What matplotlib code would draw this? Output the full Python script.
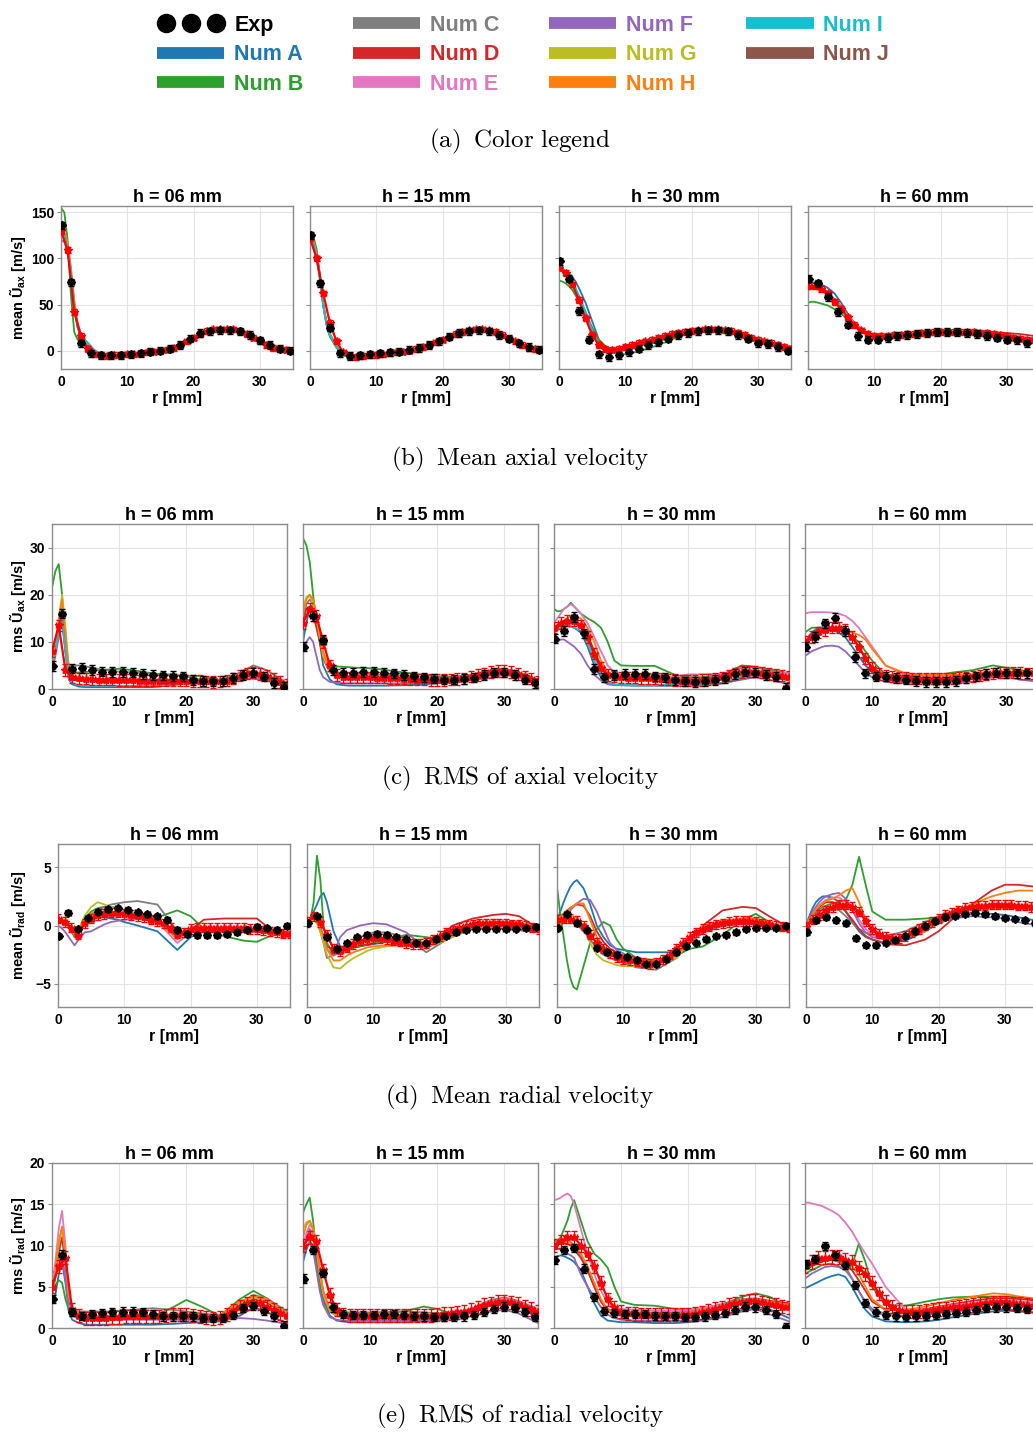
import matplotlib
matplotlib.use("Agg")
import matplotlib.pyplot as plt
from matplotlib.lines import Line2D
from matplotlib.legend_handler import HandlerLine2D

plt.rcParams["font.family"] = ["Liberation Sans", "DejaVu Sans"]
plt.rcParams["font.weight"] = "bold"
plt.rcParams["mathtext.fontset"] = "custom"
plt.rcParams["mathtext.rm"] = "Liberation Sans:bold"
plt.rcParams["mathtext.it"] = "Liberation Sans:bold"
plt.rcParams["mathtext.bf"] = "Liberation Sans:bold"

W, H = 1033, 1432

# ---------------------------------------------------------------- data
MODEL_KEYS = ["A", "B", "C", "D", "E", "F", "G", "H", "I", "J"]
MODEL_COLORS = ["#1f77b4", "#2ca02c", "#7f7f7f", "#d62728", "#e377c2",
                "#9467bd", "#bcbd22", "#ff7f0e", "#17becf", "#8c564b"]
HEIGHTS = ["06", "15", "30", "60"]

R_MODEL = [0, 0.5, 1, 1.5, 2, 2.5, 3, 4, 5, 6, 7, 8, 9, 10, 12, 15, 18, 20, 22, 25, 28, 30, 32, 35]
R_EXP = [0.1, 1.5, 3, 4.5, 6, 7.5, 9, 10.5, 12, 13.5, 15, 16.5, 18, 19.5, 21, 22.5, 24, 25.5,
         27, 28.5, 30, 31.5, 33, 34.5]
R_RED = list(range(36))

EXP_YERR = [4.0, 1.0, 0.2, 0.5]
EXP_XERR = 0.4
RED_YERR = [3.0, 1.2, 0.4, 0.8]
RED_XERR = 0.4

# mean axial velocity
UAX_EXP_06 = [136, 74, 8, -3, -5, -5, -5, -4, -3, -1, 0, 2, 6, 13, 19, 21, 22, 22, 21, 17, 11, 6, 2, 0]
UAX_RED_06 = [130, 109, 42, 16, 2, -4, -5, -6, -5, -5, -4, -4, -3, -2, -1, 0, 1, 3, 6, 10, 14, 18,
              21, 23, 23, 23, 23, 21, 18, 14, 10, 6, 3, 2, 1, 0]
UAX_NUM_06 = {
    "A": [128, 125, 112, 80, 45, 25, 15, 8, 0, -5, -6, -6, -5, -4, -3, 0, 5, 13, 20, 24, 18, 11, 3, 0],
    "B": [155, 150, 120, 60, 20, 12, 10, 5, -2, -5, -6, -6, -5, -5, -3, 0, 4, 12, 20, 25, 19, 12, 4, 0],
    "C": [130, 126, 114, 85, 48, 26, 15, 7, -1, -6, -7, -7, -6, -5, -4, -1, 4, 12, 20, 24, 18, 11, 3, 0],
    "F": [120, 118, 108, 82, 50, 28, 15, 6, -1, -5, -6, -6, -5, -4, -3, 0, 5, 13, 20, 24, 17, 11, 3, 0],
    "H": [132, 128, 118, 90, 55, 30, 18, 8, 0, -4, -5, -5, -5, -4, -3, 0, 5, 13, 20, 24, 18, 11, 4, 0],
    "I": [126, 124, 112, 85, 50, 28, 16, 9, 1, -4, -5, -5, -5, -4, -3, 0, 5, 13, 20, 24, 18, 11, 4, 0],
    "D": [130, 127, 115, 86, 50, 27, 16, 8, 0, -5, -6, -6, -5, -4, -3, 0, 5, 13, 21, 24, 18, 11, 4, 0],
}
UAX_EXP_15 = [125, 73, 25, -3, -6, -5, -4, -3, -2, -1, 1, 3, 6, 10, 15, 19, 21, 22, 21, 17, 13, 8, 4, 1]
UAX_RED_15 = [122, 100, 62, 30, 10, -2, -6, -7, -6, -5, -5, -4, -3, -2, -1, 0, 2, 4, 6, 9, 12, 15,
              18, 20, 22, 23, 23, 22, 20, 17, 13, 10, 6, 3, 2, 1]
UAX_NUM_15 = {
    "A": [122, 118, 105, 80, 50, 30, 18, 5, -4, -7, -7, -6, -5, -4, -3, 0, 5, 12, 18, 23, 20, 13, 6, 0],
    "B": [128, 124, 110, 82, 50, 28, 15, 3, -5, -7, -7, -6, -5, -4, -3, 1, 6, 13, 19, 23, 20, 13, 6, 0],
    "F": [118, 114, 100, 76, 48, 28, 17, 5, -4, -7, -7, -6, -5, -4, -3, 0, 5, 12, 18, 23, 19, 13, 6, 0],
    "H": [126, 120, 106, 80, 50, 30, 18, 5, -4, -7, -7, -6, -5, -4, -3, 0, 5, 12, 18, 23, 20, 13, 6, 0],
    "I": [120, 117, 104, 78, 48, 28, 16, 4, -5, -8, -7, -6, -5, -4, -3, 0, 5, 12, 18, 23, 20, 13, 6, 0],
    "D": [124, 120, 106, 80, 50, 29, 17, 4, -4, -7, -7, -6, -5, -4, -3, 0, 5, 12, 18, 23, 20, 13, 6, 0],
}
UAX_EXP_30 = [97, 78, 43, 12, -4, -7, -5, -2, 2, 6, 9, 13, 17, 19, 21, 22, 22, 21, 17, 13, 8, 7, 4, 0]
UAX_RED_30 = [90, 84, 72, 55, 35, 17, 6, 2, 1, 2, 4, 6, 8, 10, 12, 14, 16, 18, 19, 20, 21, 22,
              23, 23, 23, 22, 21, 19, 17, 14, 12, 10, 8, 6, 4, 2]
UAX_NUM_30 = {
    "A": [90, 88, 86, 84, 80, 75, 68, 52, 32, 12, 3, 1, 2, 3, 6, 11, 17, 20, 22, 23, 17, 12, 8, 3],
    "B": [76, 75, 73, 70, 66, 60, 54, 40, 25, 12, 5, 0, -3, -4, -1, 6, 15, 20, 24, 24, 18, 13, 8, 4],
    "C": [88, 86, 83, 78, 72, 66, 58, 42, 24, 8, 2, 0, 1, 2, 5, 10, 17, 21, 23, 23, 18, 13, 8, 4],
    "H": [88, 86, 82, 77, 71, 64, 57, 40, 22, 7, 2, 0, 1, 2, 5, 10, 17, 21, 23, 23, 18, 13, 8, 4],
    "I": [92, 90, 86, 81, 75, 68, 60, 42, 22, 6, 0, -1, 0, 2, 5, 10, 17, 21, 23, 23, 18, 13, 8, 4],
    "D": [90, 88, 84, 79, 73, 66, 58, 41, 23, 8, 2, 0, 1, 3, 6, 11, 17, 21, 23, 23, 18, 13, 8, 4],
}
UAX_EXP_60 = [78, 73, 58, 42, 28, 16, 12, 12, 13.5, 16, 17, 18, 19, 20, 20, 20, 19, 18, 16, 14, 12, 11, 8, 6]
UAX_RED_60 = [70, 70, 67, 62, 53, 45, 36, 28, 22, 18, 16, 16, 16, 17, 17, 18, 18, 19, 19, 20, 20, 20,
              20, 20, 20, 20, 19, 19, 18, 17, 16, 14, 13, 12, 11, 10]
UAX_NUM_60 = {
    "A": [72, 74, 74, 73, 72, 70, 68, 62, 52, 40, 30, 22, 17, 15, 15, 17, 19, 20, 20, 20, 18, 16, 14, 11],
    "B": [52, 53, 53, 52, 51, 50, 49, 45, 40, 34, 28, 23, 19, 17, 16, 17, 19, 20, 20, 20, 19, 17, 15, 12],
    "E": [68, 68, 68, 67, 66, 64, 62, 55, 47, 38, 30, 23, 18, 16, 16, 17, 19, 20, 20, 20, 19, 17, 15, 12],
    "H": [66, 67, 67, 66, 65, 63, 60, 54, 46, 37, 29, 22, 17, 15, 14, 16, 18, 19, 19, 19, 18, 16, 14, 11],
    "D": [70, 70, 70, 69, 68, 66, 63, 56, 48, 38, 30, 24, 19, 17, 16, 17, 19, 20, 20, 21, 20, 19, 18, 15],
}

# rms axial velocity
URMS_EXP_06 = [4.9, 16, 4.3, 4.5, 4.0, 3.7, 3.6, 3.6, 3.5, 3.2, 3.0, 2.9, 2.8, 2.7, 1.9, 1.7, 1.6, 1.7,
               2.3, 3.0, 3.5, 2.6, 1.3, 0.4]
URMS_RED_06 = [8, 13.5, 4, 2.5, 2.3, 2.2, 2.1, 2.0, 2.0, 2.0, 1.9, 1.9, 1.9, 1.8, 1.8, 1.8, 1.8, 1.8,
               1.8, 1.8, 1.8, 1.7, 1.7, 1.6, 1.5, 1.6, 1.8, 2.2, 2.8, 3.3, 3.5, 3.2, 2.8, 2.2, 1.5, 1.0]
URMS_NUM_06 = {
    "A": [5, 8, 12, 15, 8, 2, 1, 0.5, 0.4, 0.4, 0.4, 0.4, 0.4, 0.4, 0.4, 0.4, 0.8, 1.2, 1.5, 1.5, 2.5, 3.0, 2.5, 0.3],
    "B": [21.5, 25, 26.5, 20, 8, 4, 3.5, 3.5, 3.6, 3.8, 4.0, 4.1, 4.2, 4.3, 4.0, 3.3, 3.0, 2.6, 2.8, 1.8, 2.4, 2.2, 1.8, 0.8],
    "C": [5, 8, 14, 17, 10, 5, 5, 5, 4.8, 4.5, 4.2, 4.0, 3.8, 3.7, 3.5, 3.2, 3.0, 2.7, 2.0, 1.7, 3.5, 5.0, 4.0, 1.2],
    "D": [6, 9, 13, 16, 9, 3.5, 2.5, 2.3, 2.2, 2.1, 2.0, 2.0, 2.0, 1.9, 1.9, 1.8, 1.8, 1.8, 1.7, 1.6, 2.8, 3.5, 2.8, 1.0],
    "F": [4, 7, 11, 14, 8, 3, 2, 1.8, 1.7, 1.7, 1.7, 1.6, 1.6, 1.6, 1.6, 1.5, 1.5, 1.4, 1.3, 1.3, 1.8, 2.3, 1.8, 0.6],
    "G": [5, 9, 15, 20, 13, 4.5, 2.6, 2.3, 2.2, 2.1, 2.1, 2.1, 2.0, 2.0, 2.0, 1.9, 1.9, 1.8, 1.8, 1.6, 2.6, 3.4, 2.9, 1.0],
    "H": [5, 8, 14, 19, 12, 4, 2.5, 2.2, 2.1, 2.0, 2.0, 2.0, 2.0, 2.0, 2.0, 1.9, 1.9, 1.8, 1.8, 1.6, 2.8, 3.5, 3.0, 1.0],
    "I": [5, 8, 12, 15, 8, 2.2, 1.2, 0.8, 0.7, 0.7, 0.7, 0.7, 0.7, 0.7, 0.7, 0.7, 1.0, 1.3, 1.6, 1.6, 2.6, 3.1, 2.6, 0.4],
}
URMS_EXP_15 = [9, 15.5, 10.5, 4.0, 3.5, 3.5, 3.6, 3.6, 3.5, 3.3, 3.0, 2.7, 2.5, 2.2, 2.0, 2.0, 2.1, 2.4,
               3.0, 3.5, 3.5, 3.0, 2.0, 1.2]
URMS_RED_15 = [14, 17, 15.5, 10, 5, 3, 2.5, 2.5, 2.5, 2.5, 2.5, 2.4, 2.4, 2.3, 2.3, 2.2, 2.1, 2.0,
               2.0, 1.9, 1.9, 1.9, 2.0, 2.1, 2.3, 2.6, 3.0, 3.3, 3.6, 3.8, 3.8, 3.6, 3.2, 2.7, 2.2, 1.6]
URMS_NUM_15 = {
    "A": [10, 14, 17, 18, 15, 10, 5, 2, 1, 0.8, 0.7, 0.7, 0.7, 0.7, 0.7, 0.8, 1.0, 1.2, 1.5, 2.0, 3.0, 3.5, 3.0, 1.3],
    "B": [32, 30.5, 27, 20, 14, 10, 7, 5, 4.8, 4.7, 4.6, 4.5, 4.5, 4.4, 4.1, 3.5, 3.0, 2.7, 2.6, 2.8, 3.5, 4.0, 3.5, 2.0],
    "C": [15, 18, 19, 18, 15, 11, 7, 4, 3.5, 3.4, 3.4, 3.3, 3.3, 3.2, 3.0, 2.8, 2.6, 2.4, 2.5, 3.0, 4.0, 4.3, 3.6, 2.0],
    "D": [14, 17, 17.5, 16, 13, 10, 6.5, 3.5, 2.8, 2.6, 2.5, 2.5, 2.5, 2.5, 2.4, 2.2, 2.0, 1.9, 2.0, 2.6, 3.6, 3.8, 3.2, 1.6],
    "F": [8, 10, 11, 10, 7, 4, 2.5, 1.5, 1.3, 1.2, 1.2, 1.2, 1.2, 1.2, 1.2, 1.2, 1.3, 1.4, 1.5, 1.8, 2.5, 3.0, 2.5, 1.0],
    "G": [17, 19.5, 20, 18, 15, 11, 7, 3.5, 2.8, 2.6, 2.5, 2.5, 2.5, 2.5, 2.4, 2.2, 2.0, 2.0, 2.0, 2.4, 3.3, 3.6, 3.2, 1.7],
    "H": [16, 19, 20, 19, 16, 12, 8, 4, 3, 2.8, 2.7, 2.7, 2.7, 2.7, 2.6, 2.4, 2.2, 2.1, 2.1, 2.5, 3.4, 3.8, 3.4, 1.8],
}
URMS_EXP_30 = [10.7, 12.3, 15.3, 11.8, 4.2, 2.5, 3.0, 3.2, 3.2, 3.2, 2.7, 2.5, 1.9, 1.6, 1.5, 1.6, 1.9, 2.3,
               3.2, 3.7, 3.5, 3.0, 2.6, 0.2]
URMS_RED_30 = [13, 14, 14.5, 14.5, 13.5, 11, 7.5, 4.5, 3, 2.6, 2.5, 2.4, 2.4, 2.3, 2.3, 2.2, 2.1, 2.0,
               1.9, 1.8, 1.8, 1.8, 1.9, 2.0, 2.2, 2.5, 2.9, 3.3, 3.6, 3.7, 3.7, 3.5, 3.2, 3.0, 2.8, 2.6]
URMS_NUM_30 = {
    "A": [12.5, 13, 13.5, 13.5, 13.5, 13.3, 13, 12, 9, 5, 2.5, 1.2, 0.9, 0.8, 0.7, 0.7, 0.7, 0.7, 0.8, 1.2, 2.5, 3.0, 2.7, 1.8],
    "B": [17, 16.5, 16.5, 17, 17.5, 18.3, 17.5, 16, 15, 14.2, 13, 10, 6, 5, 4.9, 4.9, 3.0, 2.5, 2.5, 3.0, 5.0, 4.7, 4.2, 3.3],
    "C": [13, 13.5, 14, 14.5, 14.5, 14.5, 14, 13, 11, 7, 4, 3.2, 3.0, 3.0, 3.0, 3.0, 2.5, 2.2, 2.2, 2.8, 4.5, 4.6, 4.0, 3.2],
    "D": [13, 13.5, 14, 14.3, 14.5, 14.5, 14.3, 13.5, 11.5, 8, 5, 3.2, 2.7, 2.5, 2.4, 2.2, 1.9, 1.8, 1.9, 2.5, 3.6, 3.7, 3.3, 2.6],
    "E": [14, 15, 16, 17, 17.5, 18, 17.5, 16, 14, 11, 8, 5, 3.5, 3, 2.8, 2.6, 2.6, 3.1, 3.1, 3.2, 3.8, 4.0, 3.7, 3.3],
    "F": [9.5, 10, 10.5, 10.5, 10, 9.5, 9, 7.5, 5, 3, 1.8, 1, 0.8, 0.8, 0.8, 0.8, 0.8, 0.8, 0.9, 1.2, 2.0, 2.5, 2.0, 1.0],
    "H": [13, 13.5, 14, 14.5, 15, 15.5, 15.5, 15, 13, 10, 6, 3.5, 3.0, 2.8, 2.6, 2.5, 2.2, 2.0, 2.0, 2.4, 3.5, 3.8, 3.5, 2.8],
    "I": [12, 12.5, 13, 13.2, 13.3, 13.2, 13, 12.3, 10, 6, 3, 1.4, 1.0, 0.9, 0.8, 0.8, 0.8, 0.8, 0.9, 1.3, 2.6, 3.1, 2.8, 1.9],
}
URMS_EXP_60 = [9, 11, 13.9, 15.1, 12.3, 6.8, 3.3, 2.6, 2.6, 2.3, 2.0, 1.7, 1.5, 1.5, 1.5, 1.7, 2.3, 2.7,
               3.2, 3.5, 3.3, 3.3, 3.3, 3.3]
URMS_RED_60 = [10, 11, 12, 12.5, 13, 13, 12.5, 11, 9, 6.5, 4.5, 3.2, 2.8, 2.6, 2.5, 2.4, 2.3, 2.2,
               2.2, 2.2, 2.2, 2.2, 2.3, 2.4, 2.5, 2.7, 2.9, 3.1, 3.3, 3.5, 3.5, 3.5, 3.4, 3.3, 3.3, 3.2]
URMS_NUM_60 = {
    "A": [10, 11, 12, 12.5, 13, 13, 13, 12.5, 12, 11, 9, 7, 5, 3.5, 2, 1.6, 1.5, 1.5, 1.6, 2.2, 3.0, 3.2, 3.2, 3.1],
    "B": [12, 12.5, 13, 13, 13, 13, 13, 13, 12.5, 12, 11, 10, 8, 6, 3, 2.8, 2.8, 3.0, 3.5, 4.0, 5.0, 4.5, 4.0, 3.5],
    "D": [10, 10.5, 11.5, 12, 12.5, 12.8, 13, 13, 12.8, 12.3, 11, 9, 6.5, 4.5, 2.8, 2.5, 2.3, 2.2, 2.3, 2.7, 3.3, 3.5, 3.4, 3.2],
    "E": [16, 16.2, 16.3, 16.3, 16.3, 16.3, 16.3, 16.2, 16, 15.5, 14.5, 13, 11, 9, 5, 3, 2.8, 2.8, 2.8, 3.0, 3.3, 3.4, 3.4, 3.3],
    "F": [7, 7.5, 8, 8.3, 8.6, 8.9, 9.1, 9.2, 9, 8, 6.5, 5, 3.5, 2.5, 1.5, 1.3, 1.3, 1.3, 1.3, 1.6, 2.5, 2.6, 2.0, 1.5],
    "H": [10, 10.5, 11, 11.5, 12, 12.5, 12.8, 13, 12.8, 12.5, 12, 11.5, 10.5, 8.5, 5, 3.3, 3.0, 3.0, 3.0, 3.1, 3.4, 3.5, 3.5, 3.4],
}

# mean radial velocity
URAD_EXP_06 = [-0.9, 1.1, -0.3, 0.65, 1.2, 1.4, 1.5, 1.35, 1.15, 0.95, 0.8, 0.5, -0.35, -0.75, -0.85, -0.85,
               -0.85, -0.75, -0.6, -0.35, -0.1, -0.2, -0.35, 0.0]
URAD_RED_06 = [0.6, 0.3, -0.2, -0.8, 0.2, 0.6, 0.9, 1.0, 1.1, 1.1, 1.0, 0.9, 0.8, 0.7, 0.5, 0.4, 0.2, -0.2,
               -0.7, -0.6, -0.3, -0.2, -0.2, -0.2, -0.2, -0.2, -0.2, -0.2, -0.2, -0.3, -0.3, -0.4, -0.5, -0.6,
               -0.7, -0.7]
URAD_NUM_06 = {
    "A": [0.2, 0.3, 0.2, 0.1, -0.3, -0.7, -0.5, 0.3, 0.6, 0.7, 0.7, 0.6, 0.5, 0.3, 0, -0.5, -2.1, -1.0, -0.5, -0.5, -0.4, -0.3, -0.5, -0.7],
    "B": [0.2, 0.3, 0.2, 0.0, -0.5, -1.0, -0.6, 0.6, 1.2, 1.5, 1.6, 1.6, 1.5, 1.3, 1.0, 0.7, 1.3, 0.8, -0.3, -0.9, -1.3, -1.4, -0.9, -0.6],
    "C": [0.3, 0.4, 0.3, 0.1, -0.3, -0.8, -0.6, 0.5, 1.0, 1.3, 1.6, 1.8, 1.9, 2.0, 2.1, 1.8, -0.5, -0.6, -0.3, -0.3, -0.3, -0.3, -0.4, -0.6],
    "D": [0.5, 0.6, 0.4, 0.2, -0.2, -0.6, -0.5, 0.3, 0.7, 1.0, 1.1, 1.2, 1.1, 1.0, 0.8, 0.5, -1.0, -0.4, 0.5, 0.6, 0.6, 0.6, -0.3, -0.6],
    "E": [0.5, 0.5, 0.3, 0.1, -0.3, -0.7, -0.5, 0.3, 0.7, 0.9, 1.0, 1.0, 1.0, 0.9, 0.7, 0.3, -1.5, -0.6, -0.3, -0.3, -0.3, -0.4, -0.5, -0.7],
    "F": [0, -0.2, -0.5, -0.9, -1.3, -1.7, -1.3, -0.6, -0.5, -0.2, 0.1, 0.3, 0.4, 0.5, 0.6, 0.3, -1.0, -0.6, -0.4, -0.4, -0.4, -0.5, -0.6, -0.7],
    "G": [0.3, 0.5, 0.4, 0.2, -0.3, -0.8, -0.5, 0.8, 1.6, 2.0, 1.8, 1.6, 1.4, 1.2, 1.0, 0.5, -0.7, -0.3, -0.2, -0.2, -0.2, -0.3, -0.5, -0.7],
    "H": [0.4, 0.5, 0.3, 0.1, -0.3, -0.7, -0.4, 0.5, 1.0, 1.2, 1.2, 1.2, 1.1, 1.0, 0.8, 0.4, -1.2, -0.4, -0.2, -0.2, -0.2, -0.3, -0.5, -0.7],
}
URAD_EXP_15 = [0.2, 0.8, -1.0, -2.0, -1.5, -1.0, -0.8, -0.7, -0.8, -1.0, -1.2, -1.5, -1.5, -1.2, -0.9, -0.6,
               -0.4, -0.3, -0.3, -0.3, -0.3, -0.3, -0.2, -0.1]
URAD_RED_15 = [0.3, 0.8, 0.3, -0.8, -2.0, -2.2, -1.9, -1.6, -1.3, -1.2, -1.1, -1.1, -1.2, -1.3, -1.4, -1.5,
               -1.6, -1.6, -1.5, -1.2, -0.9, -0.6, -0.4, -0.2, 0, 0.1, 0.2, 0.2, 0.2, 0.2, 0.2, 0.1, 0.1, 0,
               -0.2, -0.3]
URAD_NUM_15 = {
    "A": [0, 0.5, 1.2, 1.8, 2.5, 2.8, 2.0, -0.5, -1.8, -2.0, -1.9, -1.8, -1.7, -1.6, -1.4, -1.4, -1.8, -1.5, -0.8, -0.2, -0.2, -0.3, -0.3, -0.5],
    "B": [0, 0.5, 2, 6, 4, 0, -1.5, -2.5, -2.3, -2.0, -1.9, -1.8, -1.6, -1.5, -1.2, -0.8, -1.0, -1.2, -0.8, 0.2, 0.3, 0.3, 0.2, -0.3],
    "C": [0.2, 0.5, 0.8, 0.5, 0, -1.0, -2.0, -2.6, -2.2, -1.8, -1.4, -1.0, -0.8, -0.6, -0.6, -1.0, -2.3, -1.6, -0.8, -0.3, -0.3, -0.3, -0.4, -0.5],
    "D": [0.3, 0.6, 0.8, 0.4, -0.3, -1.0, -1.8, -2.1, -1.9, -1.7, -1.5, -1.4, -1.3, -1.2, -1.3, -1.5, -1.7, -1.0, 0, 0.6, 0.9, 1.0, 0.8, -0.3],
    "F": [0.2, 0.4, 0.6, 0.3, -0.5, -1.5, -2.8, -2.5, -1.0, -0.4, -0.2, 0, 0.1, 0.2, 0.1, -0.6, -2.0, -1.3, -0.6, -0.2, -0.2, -0.3, -0.4, -0.6],
    "G": [0, 0.3, 0.5, 0.2, -0.5, -1.5, -2.5, -3.6, -3.7, -3.2, -2.8, -2.5, -2.2, -2.0, -1.8, -1.6, -1.8, -1.5, -1.0, -0.3, -0.1, 0, 0, -0.3],
    "H": [0.3, 0.6, 0.8, 0.4, -0.3, -1.0, -2.0, -3.0, -3.0, -2.6, -2.3, -2.1, -1.9, -1.8, -1.7, -1.7, -1.7, -1.3, -0.6, 0, 0.2, 0.3, 0.3, -0.3],
}
URAD_EXP_30 = [-0.2, 1.0, 0.2, -0.4, -1.9, -2.3, -2.5, -2.7, -3.0, -3.3, -3.3, -2.9, -2.3, -1.8, -1.5, -1.2,
               -0.9, -0.8, -0.6, -0.3, -0.2, -0.2, -0.2, 0]
URAD_RED_30 = [0.5, 0.6, 0.6, 0.4, 0, -0.8, -1.5, -2.0, -2.4, -2.7, -2.9, -3.0, -3.1, -3.2, -3.3, -3.2,
               -2.9, -2.5, -2.0, -1.5, -1.0, -0.6, -0.3, -0.1, 0.1, 0.2, 0.3, 0.4, 0.4, 0.4, 0.3, 0.2, 0.1,
               0, -0.1, -0.2]
URAD_NUM_30 = {
    "A": [0.5, 1.2, 2.0, 2.7, 3.3, 3.7, 3.9, 3.2, 1.8, 0, -1.0, -1.7, -2.0, -2.1, -2.3, -2.3, -2.3, -1.5, -0.6, 0, 0.2, 0.3, 0, -0.3],
    "B": [3.3, 1.0, -1.0, -3.0, -4.5, -5.3, -5.5, -3.5, -1.5, -0.3, 0.3, 0, -1.2, -2.0, -2.8, -3.0, -2.6, -2.0, -1.8, -0.8, 0.5, 1.0, 0.3, -0.5],
    "C": [0.5, 0.6, 0.7, 0.6, 0.5, 0.3, 0.1, -0.5, -1.2, -2.0, -2.5, -2.8, -3.0, -3.2, -3.6, -3.8, -2.8, -1.3, -0.2, 0.3, 0.4, 0.4, 0.2, -0.3],
    "D": [0.5, 0.7, 1.0, 1.3, 1.5, 1.7, 1.8, 1.7, 0.8, -0.5, -1.4, -2.0, -2.3, -2.6, -3.0, -3.1, -2.8, -1.5, 0, 1.3, 1.6, 1.5, 0.8, -0.2],
    "F": [0.3, 0.5, 0.7, 1.0, 1.3, 1.6, 1.9, 2.3, 2.2, 1.2, -0.2, -1.5, -2.1, -2.4, -3.0, -3.2, -2.5, -1.5, -0.6, 0, 0.1, 0.1, -0.2, -0.5],
    "G": [0.5, 0.6, 0.7, 0.8, 0.8, 0.8, 0.6, 0, -1.5, -2.5, -3.0, -3.2, -3.4, -3.5, -3.5, -3.4, -2.8, -1.4, -0.2, 0.3, 0.5, 0.5, 0.2, -0.3],
    "H": [0.5, 0.7, 1.0, 1.2, 1.5, 1.7, 1.9, 1.9, 0.5, -1.0, -1.8, -2.4, -2.6, -2.7, -3.0, -3.1, -2.5, -1.2, 0, 0.4, 0.6, 0.6, 0.3, -0.3],
}
URAD_EXP_60 = [-0.6, 0.45, 0.7, 0.45, 0.2, -1.1, -1.7, -1.7, -1.5, -1.25, -0.9, -0.5, 0, 0.37, 0.75, 0.85,
               1.0, 1.1, 0.95, 0.8, 0.65, 0.55, 0.45, 0.2]
URAD_RED_60 = [-0.1, 0.5, 0.9, 1.3, 1.6, 1.8, 1.8, 1.6, 1.2, 0.4, -0.3, -0.7, -1.0, -1.1, -1.1, -0.9, -0.6,
               -0.3, 0, 0.3, 0.6, 0.9, 1.1, 1.3, 1.5, 1.6, 1.7, 1.7, 1.8, 1.8, 1.8, 1.8, 1.7, 1.7, 1.6, 1.5]
URAD_NUM_60 = {
    "A": [0, 0.8, 1.5, 2.0, 2.3, 2.5, 2.5, 2.4, 2.0, 1.2, 0.3, -0.5, -1.0, -1.2, -1.5, -1.3, -0.5, 0.2, 0.6, 1.0, 1.0, 0.9, 0.7, 0.4],
    "B": [0, 0.4, 0.8, 1.1, 1.4, 1.6, 1.7, 1.9, 2.0, 2.2, 3.5, 5.9, 3.5, 1.2, 0.5, 0.5, 0.6, 0.7, 1.0, 1.5, 1.8, 1.8, 1.7, 1.5],
    "C": [0, 0.4, 0.8, 1.0, 1.2, 1.4, 1.5, 1.5, 1.3, 0.8, 0.2, -0.3, -0.6, -0.8, -0.9, -0.5, 0.3, 0.8, 1.2, 1.5, 1.6, 1.6, 1.5, 1.3],
    "D": [0, 0.5, 1.0, 1.3, 1.6, 1.8, 2.0, 2.0, 1.8, 1.2, 0.5, -0.3, -0.9, -1.2, -1.6, -1.7, -1.2, -0.5, 0.5, 1.8, 3.0, 3.5, 3.5, 3.3],
    "E": [0, 0.5, 1.0, 1.4, 1.7, 2.0, 2.2, 2.4, 2.4, 2.0, 1.3, 0.5, -0.3, -0.8, -1.2, -1.1, -0.3, 0.5, 1.1, 1.6, 1.8, 1.8, 1.7, 1.5],
    "F": [0, 0.6, 1.2, 1.6, 2.0, 2.3, 2.5, 2.7, 2.8, 2.3, 1.3, 0.2, -0.6, -1.0, -1.2, -1.0, -0.4, 0.2, 0.6, 0.8, 0.7, 0.6, 0.3, 0],
    "H": [0, 0.5, 1.0, 1.4, 1.7, 1.9, 2.1, 2.3, 2.6, 3.0, 3.2, 2.0, 0.5, -0.4, -1.1, -1.1, -0.5, 0.3, 1.0, 1.8, 2.5, 2.8, 3.0, 3.0],
}

# rms radial velocity
VRMS_EXP_06 = [3.5, 8.9, 1.9, 1.5, 1.7, 1.8, 1.9, 2.0, 2.0, 1.9, 1.7, 1.4, 1.4, 1.4, 1.4, 1.2, 1.2, 1.2,
               1.6, 2.4, 2.7, 2.1, 1.4, 0.3]
VRMS_RED_06 = [5, 7.5, 8.5, 2.2, 1.5, 1.2, 1.2, 1.2, 1.2, 1.3, 1.3, 1.4, 1.4, 1.4, 1.4, 1.4, 1.4, 1.5,
               1.6, 1.6, 1.6, 1.5, 1.4, 1.3, 1.2, 1.3, 1.6, 2.1, 2.6, 3.0, 3.2, 3.0, 2.6, 2.2, 1.8, 1.5]
VRMS_NUM_06 = {
    "A": [3, 4, 6.5, 8, 5.5, 2, 1, 0.6, 0.4, 0.4, 0.4, 0.4, 0.4, 0.4, 0.4, 0.4, 0.5, 0.6, 0.7, 0.8, 1.5, 2.5, 2.0, 0.3],
    "B": [4.5, 5.2, 5.8, 5.5, 3.5, 2.2, 1.6, 1.4, 1.3, 1.3, 1.3, 1.3, 1.3, 1.3, 1.3, 1.4, 2.5, 3.4, 2.7, 1.5, 3.5, 4.5, 3.6, 1.5],
    "C": [4, 6, 9, 11, 8, 3.5, 2.2, 2.0, 2.0, 2.0, 2.0, 2.0, 2.0, 2.1, 2.2, 2.4, 2.2, 2.0, 1.8, 1.5, 3.0, 4.0, 3.6, 2.0],
    "D": [5, 7, 9.5, 11, 8, 3.5, 2, 1.5, 1.3, 1.2, 1.2, 1.2, 1.2, 1.2, 1.2, 1.2, 1.3, 1.5, 1.5, 1.4, 2.8, 3.5, 3.1, 1.5],
    "E": [5, 8, 12, 14.2, 10, 4, 2.5, 1.8, 1.6, 1.5, 1.5, 1.5, 1.5, 1.5, 1.5, 1.4, 1.4, 1.5, 1.5, 1.5, 3.0, 3.7, 3.3, 1.5],
    "F": [6.8, 6.8, 7, 9, 6, 2.5, 1.5, 1.2, 1.0, 1.0, 1.0, 1.0, 1.0, 1.0, 1.0, 1.0, 1.0, 1.0, 1.0, 1.0, 1.2, 1.1, 0.9, 0.5],
    "G": [4, 7, 10, 12, 9, 4, 2.2, 1.6, 1.4, 1.3, 1.3, 1.3, 1.3, 1.3, 1.3, 1.3, 1.3, 1.4, 1.4, 1.5, 3.0, 3.7, 3.4, 1.6],
    "H": [4, 7, 10.5, 12.3, 9, 4, 2.2, 1.6, 1.4, 1.3, 1.3, 1.3, 1.3, 1.3, 1.3, 1.3, 1.3, 1.4, 1.4, 1.5, 3.2, 3.9, 3.5, 1.7],
}
VRMS_EXP_15 = [6, 9.5, 6.7, 2.5, 1.7, 1.6, 1.6, 1.6, 1.7, 1.7, 1.6, 1.5, 1.4, 1.3, 1.3, 1.3, 1.4, 1.6,
               1.9, 2.3, 2.6, 2.4, 1.9, 1.3]
VRMS_RED_15 = [10, 11, 10.5, 7, 4, 2.2, 1.6, 1.5, 1.5, 1.5, 1.5, 1.5, 1.5, 1.5, 1.5, 1.5, 1.5, 1.5,
               1.5, 1.5, 1.6, 1.7, 1.8, 1.9, 2.0, 2.2, 2.5, 2.8, 3.0, 3.2, 3.2, 3.1, 2.9, 2.6, 2.3, 2.0]
VRMS_NUM_15 = {
    "A": [8, 9.5, 10.5, 10, 8, 5.5, 3.5, 1.5, 0.9, 0.8, 0.7, 0.7, 0.7, 0.7, 0.7, 0.7, 0.8, 0.9, 1.2, 1.8, 2.8, 3.1, 2.7, 1.2],
    "B": [14, 15, 15.8, 13, 9, 5, 3, 2.0, 1.8, 1.8, 1.8, 1.8, 1.8, 1.8, 1.9, 2.0, 2.6, 2.3, 1.8, 2.2, 3.0, 3.3, 2.8, 1.6],
    "C": [10, 11, 12, 11.5, 9.5, 7, 4.5, 2.2, 1.9, 1.9, 1.9, 1.9, 1.9, 1.9, 1.9, 2.0, 1.9, 1.8, 1.8, 2.3, 3.4, 3.7, 3.3, 2.3],
    "D": [9.5, 11, 11.5, 11, 9, 6.5, 4.2, 2.0, 1.5, 1.3, 1.3, 1.3, 1.3, 1.3, 1.3, 1.3, 1.3, 1.4, 1.6, 2.1, 3.0, 3.3, 3.0, 2.0],
    "E": [10, 11.5, 12.5, 12, 10, 7, 4.5, 2.3, 1.7, 1.5, 1.5, 1.5, 1.5, 1.5, 1.5, 1.5, 1.5, 1.6, 1.8, 2.3, 3.2, 3.5, 3.2, 2.2],
    "F": [9, 10, 10.5, 9.5, 7, 4.5, 2.8, 1.3, 1.0, 0.9, 0.9, 0.9, 0.9, 0.9, 0.9, 0.9, 0.9, 1.0, 1.1, 1.4, 2.0, 2.2, 1.8, 0.6],
    "G": [12, 12.8, 13, 12, 9.5, 6.5, 4.2, 2.0, 1.5, 1.3, 1.3, 1.2, 1.2, 1.2, 1.2, 1.2, 1.2, 1.3, 1.5, 1.9, 2.9, 3.3, 2.9, 1.9],
    "H": [11, 12.5, 13, 12, 10, 7, 4.5, 2.2, 1.6, 1.4, 1.3, 1.3, 1.3, 1.3, 1.3, 1.3, 1.3, 1.4, 1.6, 2.0, 3.0, 3.4, 3.0, 2.0],
}
VRMS_EXP_30 = [8.2, 9.5, 9.7, 7.2, 3.8, 2.1, 1.8, 1.7, 1.7, 1.7, 1.5, 1.5, 1.45, 1.3, 1.3, 1.4, 1.6, 1.8,
               2.2, 2.6, 2.5, 2.2, 1.7, 0.1]
VRMS_RED_30 = [10, 10.5, 11, 11, 10, 9, 7.5, 5.5, 3.5, 2.5, 2.0, 1.8, 1.7, 1.6, 1.6, 1.6, 1.6, 1.6,
               1.6, 1.6, 1.6, 1.7, 1.9, 2.1, 2.3, 2.5, 2.8, 3.0, 3.2, 3.3, 3.3, 3.1, 2.9, 2.8, 2.6, 2.5]
VRMS_NUM_30 = {
    "A": [8.5, 8.7, 8.8, 8.7, 8.5, 8.3, 8.0, 7, 5, 3, 1.5, 0.9, 0.8, 0.7, 0.7, 0.6, 0.6, 0.7, 0.9, 1.3, 2.2, 2.6, 2.3, 1.2],
    "B": [10, 10.5, 11, 12, 13, 14.5, 15.5, 13, 10.5, 9, 8.3, 7.3, 5, 3.2, 2.8, 2.7, 2.3, 2.2, 2.4, 2.8, 3.8, 4.2, 3.8, 2.5],
    "C": [10.5, 10.6, 10.7, 10.7, 10.6, 10.4, 10, 8.8, 7, 5, 3.2, 2.3, 2.0, 1.9, 1.9, 1.9, 1.9, 2.0, 2.3, 2.9, 3.5, 3.6, 3.3, 2.6],
    "D": [10, 10.2, 10.3, 10.3, 10.2, 10, 9.5, 8.5, 7, 5, 3.2, 2.0, 1.6, 1.5, 1.5, 1.4, 1.5, 1.7, 2.0, 2.6, 3.3, 3.5, 3.3, 3.0],
    "E": [15.5, 15.6, 15.8, 16.1, 16.3, 16, 15, 12, 9, 6.5, 4.5, 3, 2.5, 2.3, 2.2, 2.1, 2.1, 2.2, 2.4, 2.8, 3.4, 3.5, 3.2, 2.4],
    "F": [9.5, 9.6, 9.5, 9.3, 9.0, 8.8, 8.5, 6.5, 5, 3.8, 2.5, 1.6, 1.2, 1.0, 0.9, 0.9, 0.9, 0.9, 1.0, 1.3, 2.0, 2.3, 1.7, 0.8],
    "H": [10, 10.2, 10.5, 10.5, 10.5, 10.3, 10, 9, 7.5, 5.5, 3.5, 2.2, 1.8, 1.6, 1.5, 1.5, 1.6, 1.8, 2.2, 2.6, 3.2, 3.4, 3.2, 2.8],
}
VRMS_EXP_60 = [7.8, 8.4, 9.9, 8.8, 7.6, 5.2, 3.0, 2.0, 1.6, 1.4, 1.3, 1.4, 1.5, 1.6, 1.7, 1.8, 2.0, 2.2,
               2.4, 2.5, 2.5, 2.4, 2.3, 2.2]
VRMS_RED_60 = [7.5, 8, 8.5, 8.5, 8.6, 8.6, 8.3, 8, 7.3, 6.5, 5.5, 4.2, 3.2, 2.6, 2.2, 2.0, 2.0, 2.0,
               2.1, 2.2, 2.3, 2.4, 2.5, 2.6, 2.7, 2.8, 2.9, 3.0, 3.1, 3.1, 3.1, 3.0, 2.9, 2.8, 2.7, 2.6]
VRMS_NUM_60 = {
    "A": [4.8, 5.0, 5.2, 5.4, 5.6, 5.8, 6.0, 6.3, 6.5, 6.2, 5, 3.5, 2.2, 1.4, 0.8, 0.7, 0.8, 1.0, 1.3, 1.7, 2.0, 2.1, 2.0, 1.8],
    "B": [6.5, 6.8, 7, 7.2, 7.4, 7.6, 7.7, 7.8, 7.5, 7, 7.5, 10.2, 8, 5, 2.8, 2.7, 3.2, 3.5, 3.7, 3.8, 3.8, 3.8, 3.7, 3.5],
    "C": [7.5, 7.6, 7.8, 8.0, 8.1, 8.2, 8.3, 8.3, 8.0, 7.5, 6, 4.5, 3.2, 2.3, 1.7, 1.8, 2.1, 2.4, 2.7, 3.0, 3.3, 3.3, 3.2, 3.0],
    "D": [7.0, 7.2, 7.5, 7.7, 7.9, 8.0, 8.2, 8.3, 8.2, 7.8, 7, 5.8, 4.5, 3.2, 2.2, 2.1, 2.3, 2.6, 2.9, 3.3, 3.6, 3.6, 3.5, 3.3],
    "E": [15.2, 15.2, 15.1, 15.0, 14.9, 14.8, 14.6, 14.2, 13.7, 12.8, 11.7, 10.3, 9.0, 7.8, 5.0, 2.2, 2.2, 2.5, 2.8, 3.0, 3.2, 3.2, 3.2, 3.1],
    "F": [6, 6.3, 6.6, 6.8, 7, 7.2, 7.4, 7.5, 7.4, 7, 6, 4.5, 3, 2, 1.5, 1.5, 1.6, 1.8, 2.0, 2.2, 2.3, 2.3, 2.1, 1.8],
    "H": [7.5, 7.7, 7.9, 8.0, 8.2, 8.4, 8.5, 8.6, 8.5, 8.2, 7.5, 6.5, 5, 3.5, 2.2, 2.2, 2.6, 3.0, 3.4, 3.8, 4.2, 4.1, 3.8, 3.5],
}

ROWS = [
    [(UAX_EXP_06, UAX_RED_06, UAX_NUM_06), (UAX_EXP_15, UAX_RED_15, UAX_NUM_15),
     (UAX_EXP_30, UAX_RED_30, UAX_NUM_30), (UAX_EXP_60, UAX_RED_60, UAX_NUM_60)],
    [(URMS_EXP_06, URMS_RED_06, URMS_NUM_06), (URMS_EXP_15, URMS_RED_15, URMS_NUM_15),
     (URMS_EXP_30, URMS_RED_30, URMS_NUM_30), (URMS_EXP_60, URMS_RED_60, URMS_NUM_60)],
    [(URAD_EXP_06, URAD_RED_06, URAD_NUM_06), (URAD_EXP_15, URAD_RED_15, URAD_NUM_15),
     (URAD_EXP_30, URAD_RED_30, URAD_NUM_30), (URAD_EXP_60, URAD_RED_60, URAD_NUM_60)],
    [(VRMS_EXP_06, VRMS_RED_06, VRMS_NUM_06), (VRMS_EXP_15, VRMS_RED_15, VRMS_NUM_15),
     (VRMS_EXP_30, VRMS_RED_30, VRMS_NUM_30), (VRMS_EXP_60, VRMS_RED_60, VRMS_NUM_60)],
]

Y_LABELS = ["mean \u0168$_{\\mathrm{ax}}$ [m/s]",
            "rms \u0168$_{\\mathrm{ax}}$ [m/s]",
            "mean \u0168$_{\\mathrm{rad}}$ [m/s]",
            "rms \u0168$_{\\mathrm{rad}}$ [m/s]"]
Y_LIMS = [(-20, 157), (0, 35), (-7, 7), (0, 20)]
Y_TICKS = [[0, 50, 100, 150], [0, 10, 20, 30], [-5, 0, 5], [0, 5, 10, 15, 20]]
CAPTIONS = [r"$\mathrm{(a)\;\;Color\ legend}$",
            r"$\mathrm{(b)\;\;Mean\ axial\ velocity}$",
            r"$\mathrm{(c)\;\;RMS\ of\ axial\ velocity}$",
            r"$\mathrm{(d)\;\;Mean\ radial\ velocity}$",
            r"$\mathrm{(e)\;\;RMS\ of\ radial\ velocity}$"]

# ---------------------------------------------------------------- layout (pixels)
ROW_TOP = [206, 524, 844, 1163]
ROW_BOTTOM = [369, 689, 1007, 1328]
COL_LEFT = [[61, 310, 559, 808], [52, 303, 554, 805], [58, 307, 557, 806], [52, 303, 554, 805]]
COL_WIDTH = [232, 235, 232, 235]
YLABEL_RIGHT = 28
CAPTION_Y = [141, 459, 778, 1097, 1416]


def draw_panel(ax, exp, red, nums, row):
    for key, color in zip(MODEL_KEYS, MODEL_COLORS):
        if key in nums:
            ax.plot(R_MODEL, nums[key], color=color, lw=1.3, zorder=2)
    ax.errorbar(R_RED, red, yerr=RED_YERR[row], xerr=RED_XERR, color="#ff0000", marker="*",
                ms=6, lw=1.6, elinewidth=0.9, capsize=2.5, zorder=3)
    ax.errorbar(R_EXP, exp, yerr=EXP_YERR[row], xerr=EXP_XERR, fmt="D", color="black",
                ms=4, elinewidth=1.0, capsize=2.5, zorder=4)


fig = plt.figure(figsize=(W / 100, H / 100), dpi=100)

for row in range(4):
    for col in range(4):
        left = COL_LEFT[row][col]
        width = COL_WIDTH[row]
        ax = fig.add_axes([left / W, 1 - ROW_BOTTOM[row] / H, width / W,
                           (ROW_BOTTOM[row] - ROW_TOP[row]) / H])
        exp, red, nums = ROWS[row][col]
        draw_panel(ax, exp, red, nums, row)
        ax.set_xlim(0, 35)
        ax.set_ylim(*Y_LIMS[row])
        ax.set_xticks([0, 10, 20, 30])
        ax.set_yticks(Y_TICKS[row])
        ax.grid(True, color="#e3e3e3", lw=0.8)
        ax.set_axisbelow(True)
        for sp in ax.spines.values():
            sp.set_color("#8c8c8c")
            sp.set_linewidth(1.0)
        ax.tick_params(axis="y", length=3, width=0.8, color="#8c8c8c", labelsize=10, pad=2)
        ax.tick_params(axis="x", length=0, labelsize=10, pad=4)
        ax.set_title(f"h = {HEIGHTS[col]} mm", fontsize=13, fontweight="bold", pad=1.5)
        ax.set_xlabel("r [mm]", fontsize=11.5, fontweight="bold", labelpad=2)
        if col == 0:
            ax.set_ylabel(Y_LABELS[row], fontsize=10.5, fontweight="bold")
            ax.yaxis.set_label_coords(-(left - YLABEL_RIGHT) / width, 0.5)
        else:
            ax.tick_params(axis="y", labelleft=False)

# legend on top
exp_handle = Line2D([], [], color="black", marker="o", linestyle="none", markersize=13)
handles = [exp_handle]
labels = ["Exp"]
for key, color in zip(MODEL_KEYS, MODEL_COLORS):
    handles.append(Line2D([], [], color=color, lw=8.5, solid_capstyle="butt"))
    labels.append(f"Num {key}")
leg = fig.legend(handles, labels, ncol=4, loc="upper center",
                 bbox_to_anchor=(520 / W, 1 - 4 / H), frameon=False, numpoints=3,
                 prop={"family": "Liberation Sans", "weight": "bold", "size": 15.5},
                 handlelength=3.72, handletextpad=0.16, columnspacing=2.0,
                 labelspacing=0.4, borderpad=0,
                 handler_map={exp_handle: HandlerLine2D(marker_pad=0.7)})
for text, color in zip(leg.get_texts(), ["black"] + MODEL_COLORS):
    text.set_color(color)

for y, caption in zip(CAPTION_Y, CAPTIONS):
    fig.text(520 / W, 1 - y / H, caption, ha="center", va="center", fontsize=18,
             math_fontfamily="cm")

fig.savefig("out.png", dpi=100)
